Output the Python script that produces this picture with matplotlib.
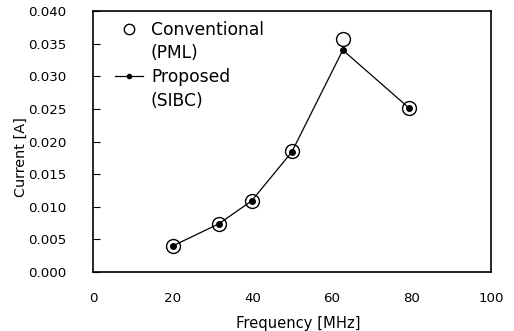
import matplotlib.pyplot as plt
from matplotlib.lines import Line2D

plt.rcParams['font.family'] = ['DejaVu Sans']

freq = [20, 31.6, 39.8, 49.9, 62.7, 79.2]
conventional = [0.0040, 0.0073, 0.0109, 0.0185, 0.0357, 0.0252]
proposed = [0.0040, 0.0074, 0.0109, 0.0184, 0.0340, 0.0252]
legend_labels = ['Conventional', '(PML)', 'Proposed', '(SIBC)']

fig, ax = plt.subplots(figsize=(5.14, 3.31), dpi=100)
fig.subplots_adjust(left=0.181, right=0.956, top=0.967, bottom=0.178)

conv, = ax.plot(freq, conventional, 'o', mfc='none', mec='black', ms=10,
                mew=1.0, zorder=3)
prop, = ax.plot(freq, proposed, '-o', color='black', lw=0.9, ms=4, zorder=2)

ax.set_xlim(0, 100)
ax.set_ylim(0, 0.040)
ax.set_xticks(range(0, 101, 20))
ax.set_yticks([i * 0.005 for i in range(9)])
ax.set_yticklabels(['%.3f' % (i * 0.005) for i in range(9)])
ax.tick_params(axis='y', direction='in', length=5, labelsize=9.6, pad=19)
ax.tick_params(axis='x', length=0, labelsize=9.6, pad=14)
for s in ax.spines.values():
    s.set_linewidth(1.2)

ax.set_xlabel('Frequency [MHz]', fontsize=10.6)
ax.set_ylabel('Current [A]', fontsize=10.4)
ax.xaxis.set_label_coords(0.515, -0.195)
ax.xaxis.label.set_verticalalignment('center')
ax.yaxis.set_label_coords(-0.181, 0.44)
ax.yaxis.label.set_verticalalignment('center')

# second line of each label gets an empty handle
blank = Line2D([], [], linestyle='none', marker='none')
leg = ax.legend([conv, blank, prop, blank], legend_labels,
                loc='upper left', bbox_to_anchor=(0.055, 0.963), frameon=False,
                fontsize=12.3, handlelength=1.64, handletextpad=0.47,
                borderaxespad=0, borderpad=0, labelspacing=0.34,
                markerscale=0.75)

plt.savefig('out.png', dpi=100)
